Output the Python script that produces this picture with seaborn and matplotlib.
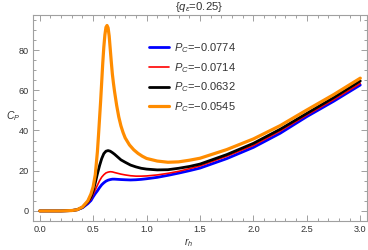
import numpy as np
import pandas as pd
import matplotlib
matplotlib.use("Agg")
import matplotlib.pyplot as plt
import seaborn as sns
from matplotlib.ticker import MultipleLocator

r_h = [0.0, 0.1, 0.2, 0.3, 0.35, 0.4, 0.45, 0.48, 0.5, 0.52, 0.54, 0.56, 0.58,
       0.6, 0.62, 0.64, 0.66, 0.68, 0.7, 0.73, 0.76, 0.8, 0.85, 0.9, 0.95, 1.0,
       1.1, 1.2, 1.3, 1.4, 1.5, 1.75, 2.0, 2.25, 2.5, 2.75, 3.0]

cp_0774 = [0.0, 0.0, 0.0, 0.2, 0.6, 1.6, 3.6, 5.2, 7.0, 8.6, 10.0, 11.6, 13.0,
           14.0, 14.8, 15.3, 15.6, 15.8, 15.8, 15.7, 15.6, 15.5, 15.4, 15.5, 15.7, 16.0,
           16.7, 17.7, 18.8, 20.0, 21.3, 26.0, 31.6, 38.6, 46.9, 54.5, 62.6]
cp_0714 = [0.0, 0.0, 0.0, 0.2, 0.6, 1.7, 4.0, 6.0, 8.3, 10.5, 12.8, 15.0, 16.8,
           18.0, 18.9, 19.3, 19.5, 19.4, 19.1, 18.7, 18.3, 17.9, 17.5, 17.3, 17.3, 17.4,
           17.9, 18.7, 19.7, 21.0, 22.4, 27.2, 32.6, 39.7, 47.7, 55.3, 63.4]
cp_0632 = [0.0, 0.0, 0.0, 0.2, 0.6, 1.8, 4.5, 7.0, 10.0, 14.0, 18.5, 22.5, 26.0,
           28.5, 29.7, 30.0, 29.7, 29.0, 28.2, 26.8, 25.4, 24.2, 22.8, 21.9, 21.2, 20.8,
           20.4, 20.5, 21.2, 22.1, 23.3, 28.0, 33.6, 40.6, 48.5, 56.3, 64.6]

r_h_0545 = [0.0, 0.1, 0.2, 0.3, 0.35, 0.4, 0.45, 0.48, 0.5, 0.52, 0.54, 0.55, 0.56,
            0.57, 0.58, 0.59, 0.6, 0.61, 0.62, 0.63, 0.64, 0.65, 0.66, 0.67, 0.68,
            0.69, 0.7, 0.72, 0.74, 0.76, 0.78, 0.8, 0.84, 0.88, 0.92, 0.96, 1.0,
            1.1, 1.2, 1.3, 1.4, 1.5, 1.75, 2.0, 2.25, 2.5, 2.75, 3.0]
cp_0545 = [0.0, 0.0, 0.0, 0.2, 0.6, 2.0, 5.0, 8.5, 12.0, 18.0, 29.5, 37.5, 46.0,
           54.5, 64.0, 73.5, 81.5, 87.5, 91.3, 92.2, 91.0, 87.0, 80.5, 74.0, 68.0,
           63.5, 59.5, 52.5, 46.7, 42.3, 39.0, 36.3, 32.8, 30.4, 28.6, 27.2, 26.1,
           24.8, 24.2, 24.4, 25.2, 26.2, 30.5, 35.8, 42.4, 50.2, 57.8, 66.0]

labels = ["$P_C$=\u22120.0774", "$P_C$=\u22120.0714", "$P_C$=\u22120.0632", "$P_C$=\u22120.0545"]
xs = [r_h, r_h, r_h, r_h_0545]
series = [cp_0774, cp_0714, cp_0632, cp_0545]
colors = ["#0000ff", "#ff0000", "#000000", "#ff8c00"]
widths = [2.0, 1.2, 2.0, 2.3]

sns.set_theme(style="ticks")
plt.rcParams['font.family'] = ['Liberation Sans', 'DejaVu Sans']
plt.rcParams['mathtext.fontset'] = 'custom'
plt.rcParams['mathtext.rm'] = 'Liberation Sans'
plt.rcParams['mathtext.it'] = 'Liberation Sans:italic'
plt.rcParams['mathtext.fallback'] = 'stixsans'

fig = plt.figure(figsize=(3.68, 2.5), dpi=100)
ax = fig.add_axes([33.3/368, 1-221/250, (366.7-33.3)/368, (221-15)/250])

for x, vals, lab, c, w in zip(xs, series, labels, colors, widths):
    df = pd.DataFrame({"r": x, "cp": vals})
    sns.lineplot(data=df, x="r", y="cp", ax=ax, color=c, lw=w, label=lab,
                 estimator=None, sort=False)

ax.set_xlim(-0.06, 3.06)
ax.set_ylim(-5, 97.4)
ax.xaxis.set_major_locator(MultipleLocator(0.5))
ax.xaxis.set_minor_locator(MultipleLocator(0.1))
ax.yaxis.set_major_locator(MultipleLocator(20))
ax.yaxis.set_minor_locator(MultipleLocator(5))
ax.xaxis.set_major_formatter(matplotlib.ticker.FormatStrFormatter('%.1f'))

gray = "#a0a0a0"
for s in ax.spines.values():
    s.set_color(gray)
    s.set_linewidth(0.8)
ax.tick_params(which='both', direction='in', top=True, right=True, color=gray,
               labelsize=6.6, labelcolor='#333333', width=0.7)
ax.tick_params(which='major', length=4, pad=3)
ax.tick_params(which='minor', length=2.2)

ax.set_xlabel("")
ax.set_ylabel("")
fig.text(189/368, 1-243/250, "$r_h$", ha='center', va='center', fontsize=7.5, color='#333333')
fig.text(13/368, 1-116/250, "$C_P$", ha='center', va='center', fontsize=7.5, color='#333333')
fig.text(199/368, 1-7/250, "{$q_\\epsilon$=0.25}", ha='center', va='center', fontsize=8.2, color='#333333')

leg = ax.legend(loc='upper left', bbox_to_anchor=(141/368, 1-33.5/250), bbox_transform=fig.transFigure,
                frameon=False, fontsize=8, handlelength=1.85, handletextpad=0.45,
                labelspacing=0.52, borderpad=0.2)
for t in leg.get_texts():
    t.set_color('#333333')

fig.savefig("out.png", dpi=100)
